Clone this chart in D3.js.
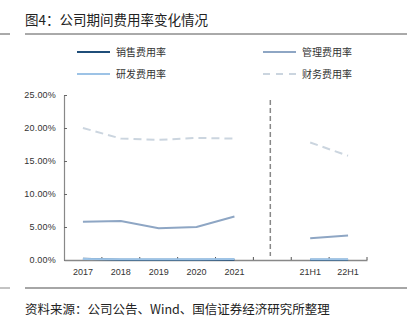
<!DOCTYPE html>
<html><head><meta charset="utf-8">
<script src="https://cdn.jsdelivr.net/npm/d3@7"></script>
<style>
body{margin:0;background:#fff;}
svg{display:block;font-family:"Liberation Sans",Arial,"Noto Sans CJK SC",sans-serif;}
.cjk{font-family:"Noto Sans CJK SC",sans-serif;}
</style></head>
<body>
<svg id="c" width="410" height="326"></svg>
<script>
const categories = ["2017","2018","2019","2020","2021","","21H1","22H1"];
const seriesNames = ["销售费用率","管理费用率","研发费用率","财务费用率"];
const sales   = [0.2, 0.05, 0.03, 0.03, 0.05, null, 0.03, 0.03];
const admin   = [5.8, 5.9, 4.8, 5.0, 6.6, null, 3.3, 3.7];
const rnd     = [0.15, 0.1, 0.1, 0.1, 0.15, null, 0.1, 0.1];
const finance = [20.0, 18.4, 18.2, 18.5, 18.4, null, 17.8, 15.8];
const yTicks  = [0, 5, 10, 15, 20, 25];
const yTickLabels = ["0.00%","5.00%","10.00%","15.00%","20.00%","25.00%"];
const titleText = "图4：公司期间费用率变化情况";
const sourceText = "资料来源：公司公告、Wind、国信证券经济研究所整理";

const svg = d3.select("#c");
const x = d3.scaleBand().domain(categories.map((d,i)=>i)).range([64,367]).padding(0);
const y = d3.scaleLinear().domain([0,25]).range([260,95]);

// title and rules
svg.append("text").attr("class","cjk").attr("x",25).attr("y",25).attr("font-size",13.5).attr("fill","#222").text(titleText);
svg.append("line").attr("x1",0).attr("x2",10).attr("y1",34).attr("y2",34).attr("stroke","#555").attr("stroke-width",1);
svg.append("line").attr("x1",25).attr("x2",407).attr("y1",34).attr("y2",34).attr("stroke","#555").attr("stroke-width",1);
svg.append("line").attr("x1",0).attr("x2",10).attr("y1",288).attr("y2",288).attr("stroke","#888").attr("stroke-width",1);
svg.append("line").attr("x1",25).attr("x2",407).attr("y1",288).attr("y2",288).attr("stroke","#888").attr("stroke-width",1.5);
svg.append("text").attr("class","cjk").attr("x",25).attr("y",314).attr("font-size",12.5).attr("fill","#222").text(sourceText);

const styles = [
  {color:"#1F4E79", dash:null, data:sales},
  {color:"#8EA6C4", dash:null, data:admin},
  {color:"#9DC3E6", dash:null, data:rnd},
  {color:"#CBD5DF", dash:"8,5", data:finance}
];

// legend
const legPos = [[77,52],[263,52],[77,74],[263,74]];
seriesNames.forEach((n,i)=>{
  const [lx,ly] = legPos[i];
  svg.append("line").attr("x1",lx).attr("x2",lx+33).attr("y1",ly).attr("y2",ly)
    .attr("stroke",styles[i].color).attr("stroke-width",2).attr("stroke-dasharray",i===3?"7,6":null);
  svg.append("text").attr("class","cjk").attr("x",lx+39).attr("y",ly+3.5).attr("font-size",10).attr("fill","#333").text(n);
});

// y axis
const yAxis = d3.axisLeft(y).tickValues(yTicks).tickFormat((d,i)=>yTickLabels[i]).tickSizeInner(-3).tickSizeOuter(0).tickPadding(8);
const gy = svg.append("g").attr("transform","translate(64,0)").call(yAxis);
gy.select(".domain").attr("stroke","#888").attr("stroke-width",1.2);
gy.selectAll(".tick line").attr("stroke","#666");
gy.selectAll(".tick text").attr("font-size",9).attr("fill","#333").attr("letter-spacing",0.2);

// x axis
const xAxis = d3.axisBottom(x).tickFormat(i=>categories[i]).tickSize(0).tickPadding(9);
const gx = svg.append("g").attr("transform","translate(0,260)").call(xAxis);
gx.select(".domain").attr("stroke","#888").attr("stroke-width",1.5);
gx.selectAll(".tick text").attr("font-size",9).attr("fill","#333");
// boundary ticks (pointing up)
const bounds = d3.range(1, categories.length+1).map(i=> x(i-1)+x.bandwidth());
svg.append("g").selectAll("line").data(bounds).join("line")
  .attr("x1",d=>d).attr("x2",d=>d).attr("y1",260).attr("y2",257).attr("stroke","#555");

// separator dashed line at blank category
const blankIdx = categories.indexOf("");
const sx = x(blankIdx)+x.bandwidth()/2 - 2;
svg.append("line").attr("x1",sx).attr("x2",sx).attr("y1",100).attr("y2",256)
  .attr("stroke","#888").attr("stroke-width",1.5).attr("stroke-dasharray","5,3");

// series lines
const line = d3.line().defined(d=>d.v!==null).x(d=>x(d.i)+x.bandwidth()/2).y(d=>y(d.v));
[3,1,0,2].forEach(k=>{
  const s = styles[k];
  svg.append("path").datum(s.data.map((v,i)=>({i,v})))
    .attr("d",line).attr("fill","none").attr("stroke",s.color).attr("stroke-width",2)
    .attr("stroke-dasharray",s.dash);
});
</script>
</body></html>
